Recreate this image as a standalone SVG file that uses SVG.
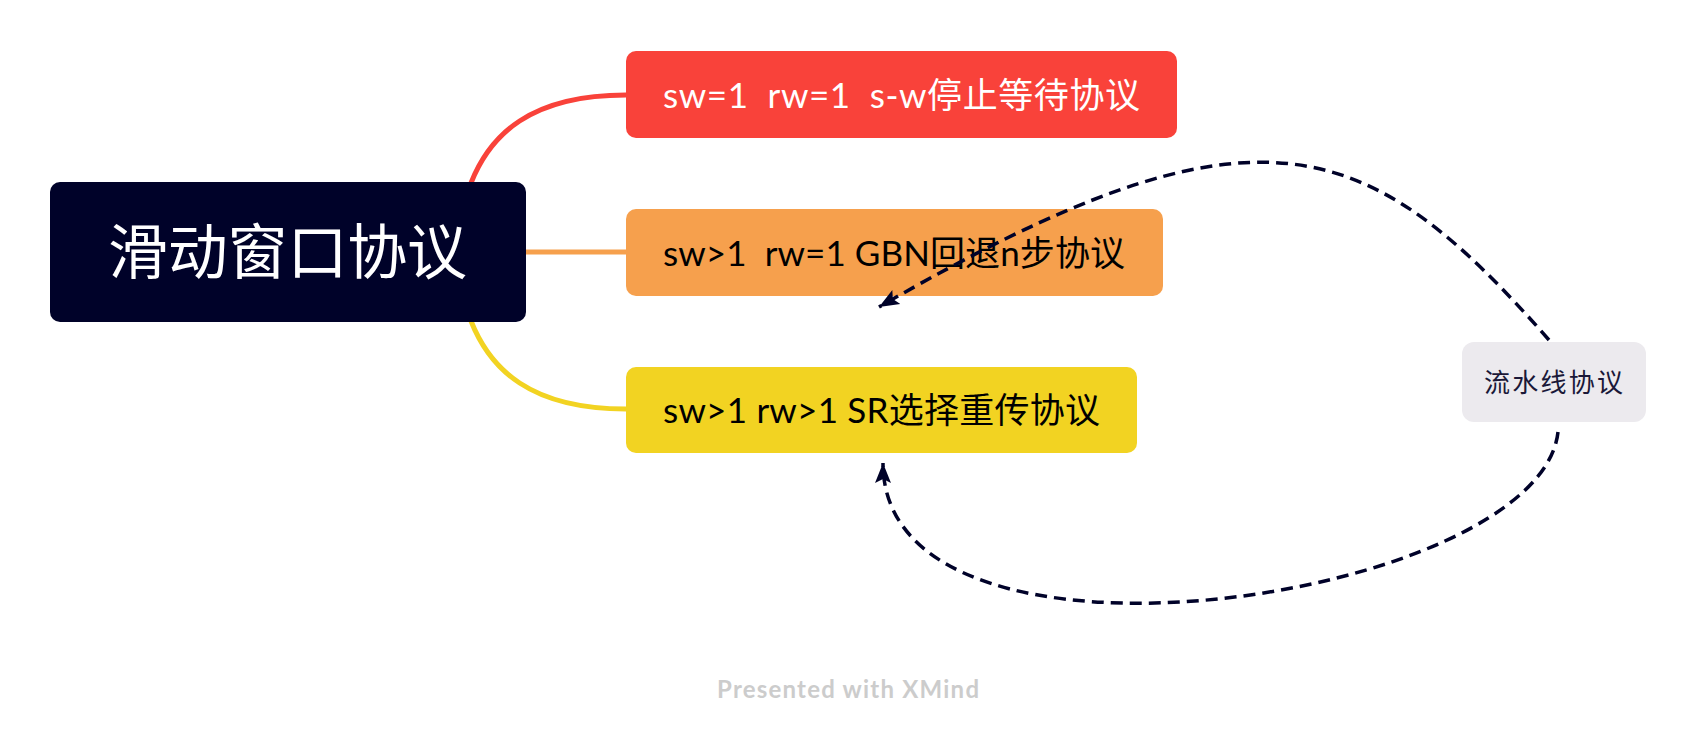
<svg xmlns="http://www.w3.org/2000/svg" width="1696" height="740" viewBox="0 0 1696 740">
<defs>
<style>
.t{font-family:"Lato","Noto Sans CJK SC",sans-serif;dominant-baseline:central;white-space:pre}
.rel{fill:none;stroke:#000229;stroke-width:3.5;stroke-dasharray:12 7}
.br{fill:none;stroke-width:5;stroke-linecap:round}
</style>
<marker id="arr" markerUnits="userSpaceOnUse" markerWidth="22" markerHeight="18" viewBox="0 0 22 18" refX="20" refY="9" orient="auto">
<path d="M0,1 L20,9 L0,17 L4,9 Z" fill="#000229"/>
</marker>
</defs>
<rect width="1696" height="740" fill="#ffffff"/>
<g id="connectors">
<path class="br" stroke="#F9423A" d="M471,183 C490,135 530,95 626,95"/>
<path class="br" stroke="#F6A04D" d="M526,252 L626,252"/>
<path class="br" stroke="#F2D322" d="M471,321 C490,369 530,409 626,409"/>
</g>
<g id="root">
<rect x="50" y="182" width="476" height="140" rx="10" fill="#000229"/>
<text class="t" x="108" y="251" font-size="60" fill="#ffffff" textLength="359">滑动窗口协议</text>
</g>
<g id="node-sw">
<rect x="626" y="51" width="551" height="87" rx="10" fill="#F9423A"/>
<text class="t" x="663" y="94" font-size="35" fill="#ffffff" textLength="477">sw=1  rw=1  s-w停止等待协议</text>
</g>
<g id="node-gbn">
<rect x="626" y="209" width="537" height="87" rx="10" fill="#F6A04D"/>
<text class="t" x="663" y="252" font-size="35" fill="#000000" textLength="462">sw&gt;1  rw=1 GBN回退n步协议</text>
</g>
<g id="node-sr">
<rect x="626" y="367" width="511" height="86" rx="10" fill="#F2D322"/>
<text class="t" x="663" y="409" font-size="35" fill="#000000" textLength="437">sw&gt;1 rw&gt;1 SR选择重传协议</text>
</g>
<g id="node-pipeline">
<rect x="1462" y="342" width="184" height="80" rx="12" fill="#ECEAEE"/>
<text class="t" x="1484" y="382" font-size="26" fill="#1A1838" textLength="139">流水线协议</text>
</g>
<g id="relations">
<path class="rel" d="M1549,340 C1365,130 1255,90 879,307" marker-end="url(#arr)"/>
<path class="rel" d="M1558,432 C1540,600 883,700 883,463" marker-end="url(#arr)"/>
</g>
<text x="717" y="698" font-family="Lato, sans-serif" font-weight="bold" font-size="24" fill="#CCCCCC" textLength="262">Presented with XMind</text>
</svg>
